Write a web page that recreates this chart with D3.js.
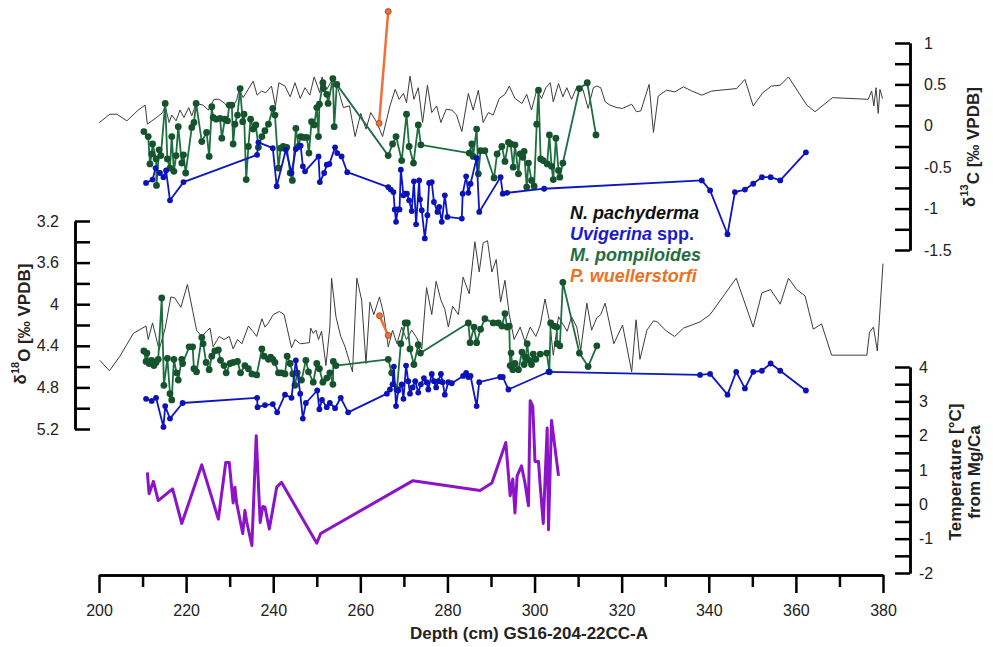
<!DOCTYPE html>
<html>
<head>
<meta charset="utf-8">
<script src="https://cdn.jsdelivr.net/npm/d3@7"></script>
<style>
    body { margin: 0; background: #fff; }
    text { font-family: "Liberation Sans", Arial, sans-serif; }
</style>
</head>
<body>
<div id="svg-container"></div>
<script>
/* isotope + Mg/Ca record vs depth, GS16-204-22CC-A */

// [depth cm, value]
let pachyC13 = [[200.1,0.04],[202.5,0.14],[204.1,0.14],[206.4,0.06],[209.0,0.19],[210.6,0.25],[211.1,0.02],[213.2,0.10],[214.6,0.16],[215.2,0.24],[216.1,0.04],[216.7,0.13],[217.7,0.06],[218.6,0.19],[219.5,0.10],[220.6,0.22],[221.3,0.12],[222.3,0.27],[223.9,0.25],[225.1,0.19],[226.4,0.32],[227.6,0.32],[228.9,0.27],[229.7,0.21],[230.7,0.23],[231.6,0.31],[232.2,0.44],[233.1,0.34],[235.4,0.54],[236.3,0.37],[237.3,0.42],[238.3,0.40],[239.6,0.48],[240.5,0.24],[241.3,0.52],[242.7,0.48],[243.9,0.35],[245.0,0.52],[246.2,0.33],[247.3,0.46],[248.4,0.37],[249.4,0.59],[250.7,0.40],[251.2,0.59],[252.3,0.44],[253.7,0.57],[254.7,0.48],[256.1,0.22],[257.5,0.24],[258.8,-0.13],[260.1,0.15],[261.3,-0.04],[262.4,0.16],[263.8,0.04],[265.1,-0.13],[266.8,0.24],[268.0,0.44],[268.9,0.32],[269.9,0.39],[270.6,0.28],[271.4,0.60],[272.3,0.32],[273.3,0.46],[274.3,0.04],[275.4,0.49],[276.4,0.16],[277.5,0.24],[278.5,0.04],[279.7,0.20],[281.0,0.19],[282.1,0.13],[283.3,-0.07],[284.8,0.39],[285.9,0.19],[287.1,0.43],[288.2,0.04],[289.4,0.16],[290.5,0.13],[291.9,0.33],[293.2,0.38],[294.2,0.48],[295.5,0.33],[297.1,0.27],[298.2,0.38],[299.3,0.19],[300.5,0.43],[301.6,0.33],[302.6,0.46],[303.6,0.52],[304.3,0.29],[305.5,0.51],[306.5,0.35],[307.4,0.46],[308.5,0.32],[309.8,0.48],[311.1,0.44],[312.3,0.21],[313.5,0.46],[314.3,0.48],[315.2,0.46],[316.2,0.29],[317.3,0.25],[318.9,0.22],[320.2,0.21],[322.3,0.26],[323.4,0.17],[324.4,0.18],[326.3,0.50],[327.3,-0.08],[328.4,0.36],[330.3,0.43],[332.2,0.41],[334.2,0.47],[336.1,0.42],[338.4,0.37],[340.7,0.42],[346.4,0.45],[348.3,0.56],[350.2,0.24],[352.4,0.40],[354.4,0.48],[356.4,0.49],[358.3,0.59],[362.5,0.25],[364.4,0.17],[368.4,0.34],[376.6,0.32],[377.4,0.42],[377.9,0.24],[378.4,0.46],[378.9,0.15],[379.3,0.44],[379.9,0.33]];

let uvigC13 = [[210.8,-0.69],[212.3,-0.65],[213.0,-0.51],[214.0,-0.57],[214.8,-0.62],[215.4,-0.54],[216.3,-0.90],[219.4,-0.68],[236.3,-0.35],[236.6,-0.20],[239.9,-0.27],[240.8,-0.73],[242.9,-0.29],[244.2,-0.57],[245.2,-0.28],[246.3,-0.24],[246.8,-0.49],[247.3,-0.55],[250.4,-0.37],[250.7,-0.68],[251.7,-0.57],[252.3,-0.47],[252.9,-0.46],[254.2,-0.26],[254.7,-0.33],[255.7,-0.37],[257.0,-0.56],[266.4,-0.74],[267.0,-0.77],[267.6,-0.80],[267.9,-1.01],[268.2,-1.16],[268.6,-1.01],[269.0,-1.01],[269.3,-0.53],[269.9,-0.84],[270.3,-0.82],[270.7,-0.82],[271.2,-0.90],[271.8,-1.03],[272.3,-0.67],[272.8,-1.19],[273.5,-0.66],[273.7,-0.89],[274.1,-1.02],[274.8,-1.36],[275.4,-1.08],[275.8,-0.69],[276.4,-0.68],[276.9,-0.92],[277.7,-1.04],[278.1,-0.98],[278.7,-1.16],[279.4,-0.84],[280.0,-1.10],[283.3,-1.12],[283.5,-0.82],[284.3,-0.61],[284.8,-0.81],[285.3,-0.70],[286.7,-0.39],[287.3,-1.04],[292.2,-0.62],[292.7,-0.82],[293.7,-0.81],[302.2,-0.76],[338.4,-0.66],[340.3,-0.78],[344.3,-1.31],[346.0,-0.80],[348.3,-0.77],[350.2,-0.70],[352.2,-0.62],[354.2,-0.62],[356.4,-0.66],[362.3,-0.32]];

let pompC13 = [[210.3,-0.07],[211.3,-0.13],[211.7,-0.46],[212.1,-0.34],[212.3,-0.22],[213.1,-0.40],[213.2,-0.72],[213.8,-0.29],[214.2,-0.36],[215.2,0.27],[215.7,-0.40],[216.3,-0.51],[216.7,-0.13],[217.2,-0.55],[217.7,-0.36],[218.2,-0.01],[219.0,-0.45],[219.4,-0.35],[219.9,-0.57],[221.3,-0.02],[221.8,0.04],[222.3,0.27],[223.6,-0.19],[224.7,-0.08],[225.3,-0.37],[225.9,0.23],[226.2,0.10],[226.9,0.08],[227.8,0.09],[228.2,-0.15],[228.9,0.08],[229.5,0.06],[229.9,0.25],[230.5,0.25],[230.8,-0.22],[231.2,0.02],[231.8,0.13],[232.4,0.45],[233.0,0.05],[233.3,0.14],[233.8,-0.65],[234.3,-0.25],[234.8,0.08],[235.4,-0.04],[236.0,0.01],[236.6,-0.26],[237.4,-0.13],[238.1,-0.06],[238.9,0.02],[239.9,0.21],[240.4,0.13],[241.2,-0.51],[241.7,-0.27],[242.3,-0.25],[243.1,-0.26],[243.9,-0.57],[244.4,-0.66],[245.2,-0.03],[245.8,-0.25],[246.3,-0.13],[246.9,-0.14],[247.7,-0.14],[248.2,-0.33],[248.8,0.05],[249.4,0.01],[250.0,0.22],[250.4,-0.13],[250.6,0.26],[251.4,0.52],[251.5,0.45],[252.3,0.38],[252.6,0.27],[253.7,0.57],[254.0,-0.01],[254.6,0.50],[266.4,-0.36],[267.4,-0.22],[268.2,-0.13],[269.5,-0.42],[270.6,0.14],[271.2,-0.25],[272.2,-0.45],[273.3,0.01],[273.9,-0.23],[285.0,-0.33],[285.6,-0.22],[285.9,-0.37],[286.7,-0.04],[287.1,-0.58],[287.6,-0.30],[288.6,-0.30],[290.7,-0.63],[291.4,-0.34],[292.5,-0.25],[293.2,-0.43],[294.0,-0.20],[294.5,-0.22],[295.1,-0.50],[295.5,-0.23],[296.3,-0.58],[296.7,-0.34],[297.3,-0.38],[297.6,-0.31],[298.2,-0.74],[298.6,-0.45],[299.3,-0.66],[299.9,-0.73],[300.5,0.02],[300.9,0.43],[301.4,-0.40],[302.0,-0.42],[302.9,-0.46],[303.4,-0.11],[303.9,-0.49],[304.3,-0.65],[304.9,-0.15],[305.5,-0.54],[305.8,-0.62],[306.5,-0.45],[310.3,0.45],[312.1,0.52],[314.1,-0.11]];

let wuellC13 = [[264.3,0.03],[266.4,1.38]];

let pachyO18 = [[200.2,4.54],[202.4,4.64],[204.8,4.50],[207.9,4.28],[210.8,4.21],[211.3,4.34],[212.3,4.18],[213.8,4.44],[215.2,4.23],[216.5,3.93],[217.4,3.94],[218.8,4.03],[220.3,3.81],[221.5,4.06],[222.4,4.25],[223.6,4.31],[224.7,4.26],[225.5,4.23],[226.2,4.41],[227.6,4.31],[228.7,4.34],[229.9,4.31],[230.8,4.43],[231.8,4.34],[232.8,4.38],[234.3,4.21],[235.3,4.26],[236.2,4.31],[237.4,4.14],[238.1,4.22],[238.9,4.18],[240.0,4.10],[241.4,4.07],[242.5,4.10],[244.2,4.42],[245.0,4.34],[246.2,4.38],[248.3,4.37],[248.6,4.23],[249.2,4.28],[249.8,4.25],[250.4,4.34],[251.1,4.26],[252.1,4.59],[253.0,4.22],[253.4,3.75],[254.4,4.12],[255.5,4.31],[256.5,4.41],[258.2,4.65],[259.2,3.75],[260.3,3.96],[261.3,4.57],[262.2,3.98],[263.1,4.10],[264.4,3.93],[265.4,4.10],[266.4,4.41],[267.4,4.25],[268.4,4.38],[269.5,4.22],[270.6,4.34],[271.8,4.25],[272.9,4.32],[274.1,4.43],[275.2,3.84],[276.4,4.10],[277.4,3.78],[278.5,3.96],[279.4,4.05],[280.2,4.22],[281.2,4.02],[282.5,4.10],[283.6,3.74],[285.0,3.90],[286.3,3.40],[287.3,3.69],[288.2,3.41],[289.2,3.39],[290.2,3.69],[291.2,3.57],[292.2,3.98],[293.2,3.77],[294.2,4.10],[295.3,4.34],[296.7,4.22],[297.8,4.36],[299.0,4.22],[300.3,4.31],[301.3,4.20],[302.4,3.95],[303.5,4.18],[304.3,4.49],[305.5,4.12],[306.5,4.19],[307.5,4.26],[308.5,4.12],[309.7,4.22],[310.6,4.44],[312.0,3.99],[313.1,4.25],[314.3,4.13],[315.2,4.10],[316.2,3.99],[318.2,4.38],[320.2,4.20],[322.3,4.65],[323.3,4.15],[324.2,4.53],[325.8,4.25],[327.3,4.16],[328.2,4.17],[330.3,4.26],[332.2,4.31],[334.2,4.23],[338.0,4.17],[340.3,4.10],[346.3,3.75],[350.2,4.22],[352.2,3.89],[354.2,3.86],[356.4,4.00],[358.3,3.75],[360.2,3.86],[362.1,3.92],[364.0,4.24],[365.9,4.19],[368.2,4.49],[376.3,4.49],[376.9,4.27],[377.8,4.22],[378.7,4.45],[380.0,3.61]];

let uvigO18 = [[210.8,4.91],[212.1,4.93],[213.1,4.90],[214.8,5.18],[215.2,4.98],[216.3,5.10],[219.2,4.95],[236.3,4.90],[236.4,4.99],[238.1,4.97],[239.9,4.96],[240.9,5.04],[242.7,4.87],[244.2,4.90],[245.2,4.54],[246.2,4.86],[246.8,5.10],[247.5,4.95],[250.1,4.83],[250.6,5.01],[251.2,4.92],[252.3,4.99],[253.0,4.95],[254.2,5.00],[255.5,4.90],[257.2,5.04],[266.1,4.86],[266.8,4.82],[267.4,4.77],[267.7,4.60],[268.2,4.98],[268.7,4.83],[269.5,4.77],[269.9,4.91],[270.5,4.59],[271.0,4.74],[271.4,4.86],[272.0,4.80],[272.6,4.74],[273.3,4.85],[273.9,4.77],[274.6,4.71],[275.2,4.75],[275.6,4.82],[276.4,4.67],[276.9,4.74],[277.4,4.80],[277.9,4.74],[278.5,4.67],[278.9,4.75],[279.4,4.87],[280.2,4.75],[281.0,4.76],[283.6,4.69],[284.3,4.66],[284.8,4.70],[285.3,4.69],[286.7,4.98],[287.3,4.75],[292.1,4.70],[292.7,4.70],[294.0,4.82],[303.2,4.65],[338.0,4.68],[340.3,4.67],[344.3,4.87],[346.3,4.65],[348.3,4.81],[350.2,4.65],[352.2,4.64],[354.2,4.57],[356.4,4.64],[362.3,4.83]];

let pompO18 = [[210.3,4.45],[210.8,4.55],[211.0,4.47],[211.5,4.57],[212.1,4.54],[212.6,4.59],[213.1,4.56],[213.6,4.53],[214.4,3.94],[214.9,4.78],[215.7,4.52],[216.3,4.86],[216.7,4.92],[217.2,4.53],[217.8,4.66],[218.2,4.73],[219.0,4.53],[219.2,4.57],[220.7,4.41],[221.5,4.41],[221.8,4.62],[222.4,4.65],[223.6,4.32],[223.9,4.38],[224.6,4.56],[225.3,4.63],[225.9,4.50],[226.6,4.45],[227.4,4.44],[227.9,4.54],[228.7,4.59],[229.2,4.66],[230.1,4.57],[230.8,4.56],[231.8,4.55],[232.5,4.66],[233.5,4.59],[234.3,4.62],[235.1,4.67],[236.2,4.68],[237.4,4.43],[237.9,4.50],[238.9,4.53],[239.4,4.51],[239.9,4.53],[240.4,4.56],[241.2,4.66],[241.9,4.66],[242.7,4.67],[243.2,4.50],[243.9,4.57],[244.5,4.67],[245.0,4.78],[245.5,4.66],[246.5,4.73],[247.5,4.54],[248.1,4.65],[249.2,4.75],[250.0,4.57],[250.6,4.62],[251.4,4.75],[252.3,4.71],[253.0,4.66],[253.7,4.77],[253.8,4.55],[254.4,4.59],[266.4,4.53],[267.2,4.66],[268.4,4.82],[269.3,4.38],[270.3,4.18],[270.8,4.18],[271.4,4.43],[272.3,4.58],[273.3,4.39],[273.8,4.47],[284.8,4.18],[285.2,4.37],[286.1,4.22],[286.7,4.37],[287.6,4.24],[288.6,4.14],[290.5,4.18],[291.7,4.18],[292.5,4.21],[293.2,4.09],[293.7,4.22],[294.2,4.21],[294.4,4.59],[294.6,4.47],[295.0,4.63],[295.5,4.57],[296.3,4.63],[297.1,4.46],[297.6,4.58],[298.0,4.51],[298.3,4.38],[298.8,4.54],[299.3,4.58],[299.7,4.48],[300.3,4.53],[301.3,4.48],[302.8,4.47],[303.4,4.65],[303.7,4.18],[304.5,4.21],[305.1,4.22],[305.2,4.38],[305.8,4.40],[306.5,3.79],[310.3,4.47],[312.3,4.60],[314.3,4.40]];

let wuellO18 = [[264.4,4.11],[266.4,4.30]];

let tempMgCa = [[211.1,0.93],[211.5,0.31],[212.5,0.67],[213.6,0.11],[216.9,0.45],[219.0,-0.56],[223.6,1.15],[227.4,-0.43],[229.1,1.22],[229.9,1.22],[230.8,0.04],[231.2,0.50],[231.6,0.04],[233.0,-0.85],[233.5,-0.18],[233.9,-0.50],[235.1,-1.20],[236.1,2.00],[237.0,-0.53],[237.6,-0.06],[238.1,-0.08],[239.1,-0.72],[240.8,0.50],[241.9,0.64],[250.0,-1.13],[250.9,-0.85],[272.1,0.69],[287.5,0.40],[290.2,0.62],[293.4,1.80],[294.4,0.25],[295.0,0.74],[295.5,-0.25],[296.0,0.83],[297.0,1.12],[297.8,0.62],[298.6,-0.04],[299.0,3.02],[299.6,2.85],[300.1,1.25],[300.9,1.25],[301.3,0.54],[302.0,-0.56],[302.9,2.22],[303.2,-0.74],[303.9,2.44],[305.5,0.83]];

// tick labels
let depthTicks = [200, 220, 240, 260, 280, 300, 320, 340, 360, 380];
let c13Ticks = [1, 0.5, 0, -0.5, -1, -1.5];
let o18Ticks = [3.2, 3.6, 4, 4.4, 4.8, 5.2];
let tempTicks = [4, 3, 2, 1, 0, -1, -2];

let svg_width = 993, svg_height = 647;
let col_pachy = "#3c3c3c", col_uvig = "#0d16c4", col_pomp = "#1f6e40", col_wuell = "#f0703a", col_temp = "#8c14c8";

let x = d3.scaleLinear().domain([200, 380]).range([99, 883]);
let yC = d3.scaleLinear().domain([-1.5, 1]).range([250, 43]);
let yO = d3.scaleLinear().domain([3.2, 5.2]).range([221, 429]);
let yT = d3.scaleLinear().domain([-2, 4]).range([573, 367]);

let svg = d3.select("#svg-container")
    .append("svg")
    .attr("width", svg_width)
    .attr("height", svg_height)
    .style("background", "#fff");

let styleAxis = function (g) {
    g.attr("font-family", "Liberation Sans, Arial, sans-serif")
        .attr("font-size", 16);
    g.select(".domain").attr("stroke-width", 2.5);
    g.selectAll(".tick line").attr("stroke-width", 2.5);
    g.selectAll(".tick text").attr("fill", "#222");
};

// ****** axes ******
svg.append("g")
    .attr("transform", "translate(0,575)")
    .call(d3.axisBottom(x).tickValues(d3.range(210, 380, 20)).tickSize(12).tickSizeOuter(0).tickFormat(""))
    .call(styleAxis);
svg.append("g")
    .attr("transform", "translate(0,575)")
    .call(d3.axisBottom(x).tickValues(depthTicks).tickSize(18).tickSizeOuter(0).tickPadding(12))
    .call(styleAxis);

svg.append("g")
    .attr("transform", "translate(910,0)")
    .call(d3.axisRight(yC).tickValues(d3.range(-1.25, 1, 0.5)).tickSize(-15).tickSizeOuter(0).tickFormat(""))
    .call(styleAxis);
svg.append("g")
    .attr("transform", "translate(910,0)")
    .call(d3.axisRight(yC).tickValues(c13Ticks).tickSize(-15).tickSizeOuter(0).tickPadding(14).tickFormat(d => String(d)))
    .call(styleAxis);

svg.append("g")
    .attr("transform", "translate(75,0)")
    .call(d3.axisLeft(yO).tickValues([3.4, 3.8, 4.2, 4.6, 5.0]).tickSize(-15).tickSizeOuter(0).tickFormat(""))
    .call(styleAxis);
svg.append("g")
    .attr("transform", "translate(75,0)")
    .call(d3.axisLeft(yO).tickValues(o18Ticks).tickSize(-15).tickSizeOuter(0).tickPadding(16).tickFormat(d => String(d)))
    .call(styleAxis);

svg.append("g")
    .attr("transform", "translate(910,0)")
    .call(d3.axisRight(yT).tickValues(d3.range(-1.5, 4, 1)).tickSize(-15).tickSizeOuter(0).tickFormat(""))
    .call(styleAxis);
svg.append("g")
    .attr("transform", "translate(910,0)")
    .call(d3.axisRight(yT).tickValues(tempTicks).tickSize(-15).tickSizeOuter(0).tickPadding(9).tickFormat(d => String(d)))
    .call(styleAxis);

// ****** series ******
let drawSeries = function (data, y, color, width, r, dotFill, dotStroke) {
    let line = d3.line()
        .x(function (d) { return x(d[0]); })
        .y(function (d) { return y(d[1]); });
    let g = svg.append("g");
    g.append("path")
        .datum(data)
        .attr("d", line)
        .attr("fill", "none")
        .attr("stroke", color)
        .attr("stroke-width", width)
        .attr("stroke-linejoin", "round");
    if (r > 0) {
        g.selectAll("circle")
            .data(data)
            .enter()
            .append("circle")
            .attr("cx", function (d) { return x(d[0]); })
            .attr("cy", function (d) { return y(d[1]); })
            .attr("r", r)
            .attr("fill", dotFill)
            .attr("stroke", dotStroke || "none")
            .attr("stroke-width", 0.8);
    }
};

drawSeries(pachyC13, yC, col_pachy, 1, 0);
drawSeries(pompC13, yC, col_pomp, 1.8, 3.4, "#15532d");
drawSeries(uvigC13, yC, col_uvig, 1.8, 2.9, "#0a12b8");
drawSeries(wuellC13, yC, col_wuell, 2.5, 3, col_wuell, "#a8401c");

drawSeries(pachyO18, yO, col_pachy, 1, 0);
drawSeries(pompO18, yO, col_pomp, 1.8, 3.4, "#15532d");
drawSeries(uvigO18, yO, col_uvig, 1.8, 2.9, "#0a12b8");
drawSeries(wuellO18, yO, col_wuell, 2.5, 3, col_wuell, "#a8401c");

drawSeries(tempMgCa, yT, col_temp, 3, 0);

// ****** labels ******
svg.append("text")
    .attr("x", 529)
    .attr("y", 639)
    .attr("text-anchor", "middle")
    .attr("font-size", 17)
    .attr("font-weight", "bold")
    .attr("fill", "#222")
    .text("Depth (cm) GS16-204-22CC-A");

let isoLabel = function (cx, cy, iso, el) {
    let t = svg.append("text")
        .attr("transform", "translate(" + cx + "," + cy + ") rotate(-90)")
        .attr("text-anchor", "middle")
        .attr("dy", "0.35em")
        .attr("font-size", 17)
        .attr("font-weight", "bold")
        .attr("fill", "#222");
    t.append("tspan").text("δ");
    t.append("tspan").attr("font-size", 11).attr("dy", "-0.6em").text(iso);
    t.append("tspan").attr("dy", "0.6em").text(el + " [‰ VPDB]");
};
isoLabel(969, 147, "13", "C");
isoLabel(20, 324, "18", "O");

svg.append("text")
    .attr("transform", "translate(955,472) rotate(-90)")
    .attr("text-anchor", "middle")
    .attr("dy", "0.35em")
    .attr("font-size", 17)
    .attr("font-weight", "bold")
    .attr("fill", "#222")
    .text("Temperature [°C]");
svg.append("text")
    .attr("transform", "translate(974,472) rotate(-90)")
    .attr("text-anchor", "middle")
    .attr("dy", "0.35em")
    .attr("font-size", 17)
    .attr("font-weight", "bold")
    .attr("fill", "#222")
    .text("from Mg/Ca");

// legend
let legend = svg.append("g")
    .attr("font-size", 18)
    .attr("font-weight", "bold");
legend.append("text").attr("x", 570).attr("y", 219).attr("fill", "#111")
    .attr("font-style", "italic").text("N. pachyderma");
let uv = legend.append("text").attr("x", 570).attr("y", 240).attr("fill", "#1a1ad0");
uv.append("tspan").attr("font-style", "italic").text("Uvigerina");
uv.append("tspan").text(" spp.");
legend.append("text").attr("x", 570).attr("y", 261).attr("fill", col_pomp)
    .attr("font-style", "italic").text("M. pompiloides");
legend.append("text").attr("x", 570).attr("y", 282).attr("fill", "#f07020")
    .attr("font-style", "italic").text("P. wuellerstorfi");
</script>
</body>
</html>
